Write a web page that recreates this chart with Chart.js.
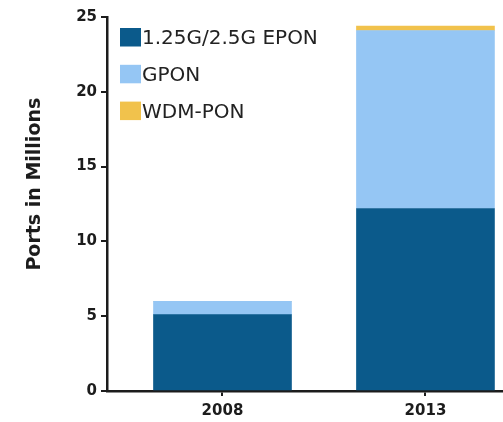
<!DOCTYPE html>
<html>
<head>
<meta charset="utf-8">
<script src="https://cdn.jsdelivr.net/npm/chart.js@4.4.1/dist/chart.umd.min.js"></script>
<style>
  html, body { margin: 0; padding: 0; background: #fff; overflow: hidden; }
  canvas { display: block; }
</style>
</head>
<body>
<canvas id="ports" width="503" height="422"></canvas>
<script>
// Deployed PON ports (millions) by technology
const years = ['2008', '2013'];
const seriesNames = ['1.25G/2.5G EPON', 'GPON', 'WDM-PON'];
const eponPorts = [5.1, 12.2];
const gponPorts = [0.9, 11.9];
const wdmPonPorts = [0, 0.3];
const yTicks = [0, 5, 10, 15, 20, 25];
const seriesColors = ['#0b5a8b', '#95c6f4', '#f1c24c'];

const INK = '#1c1c1c';
const FAMILY = '"DejaVu Sans", "Liberation Sans", sans-serif';

// bars sit on a numeric x axis: index 0 -> 2008, 1 -> 2013
const points = values => values.map((v, i) => ({ x: i, y: v }));

// Stacked key in the upper-left corner of the plot
const cornerKey = {
  id: 'cornerKey',
  afterDraw(chart) {
    const { ctx, chartArea } = chart;
    ctx.save();
    ctx.font = `20px ${FAMILY}`;
    ctx.textBaseline = 'middle';
    ctx.textAlign = 'left';
    chart.data.datasets.forEach((ds, i) => {
      const x = chartArea.left + 13;
      const y = chartArea.top + 11 + i * 36.8;
      ctx.fillStyle = ds.backgroundColor;
      ctx.fillRect(x, y, 21, 18.5);
      ctx.fillStyle = '#222';
      ctx.fillText(ds.label, x + 22, y + 11);
    });
    ctx.restore();
  }
};

const tickFont = { family: FAMILY, size: 15, weight: 'bold' };

new Chart(document.getElementById('ports'), {
  type: 'bar',
  data: {
    datasets: [
      { label: seriesNames[0], data: points(eponPorts), backgroundColor: seriesColors[0] },
      { label: seriesNames[1], data: points(gponPorts), backgroundColor: seriesColors[1] },
      { label: seriesNames[2], data: points(wdmPonPorts), backgroundColor: seriesColors[2] }
    ]
  },
  options: {
    responsive: false,
    animation: false,
    datasets: { bar: { barThickness: 138, borderWidth: 0, grouped: false } },
    layout: { padding: { top: 17, right: 0, bottom: 0, left: 0 } },
    plugins: {
      legend: { display: false },
      tooltip: { enabled: false }
    },
    scales: {
      x: {
        type: 'linear',
        offset: false,
        min: -0.569,
        max: 1.382,
        afterBuildTicks: scale => { scale.ticks = years.map((_, i) => ({ value: i })); },
        afterFit: scale => { scale.height = 31; },
        grid: { display: true, offset: false, drawOnChartArea: false, drawTicks: true, tickLength: 5, color: INK, lineWidth: 2 },
        border: { display: true, color: INK, width: 2.5 },
        ticks: {
          callback: v => years[v],
          font: tickFont,
          color: INK,
          padding: 6,
          maxRotation: 0,
          autoSkip: false
        }
      },
      y: {
        stacked: true,
        min: 0,
        max: 25,
        afterBuildTicks: scale => { scale.ticks = yTicks.map(v => ({ value: v })); },
        afterFit: scale => { scale.width = 107; },
        grid: { display: true, drawOnChartArea: false, drawTicks: true, tickLength: 6, color: INK, lineWidth: 2 },
        border: { display: true, color: INK, width: 2.5 },
        ticks: { font: tickFont, color: INK, padding: 4 },
        title: {
          display: true,
          text: '      Ports in Millions',
          font: { family: FAMILY, size: 19, weight: 'bold' },
          color: INK,
          padding: { top: 24, bottom: 0 }
        }
      }
    }
  },
  plugins: [cornerKey]
});
</script>
</body>
</html>
